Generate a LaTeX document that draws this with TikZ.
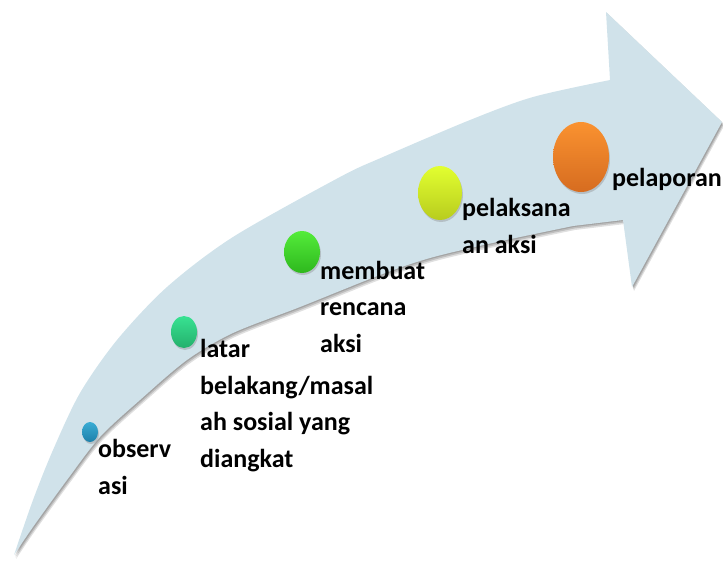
\documentclass[tikz,border=0pt]{standalone}
\usepackage{fontspec}
\setmainfont{Carlito}
\usetikzlibrary{shapes.geometric,shadows}

\definecolor{bandblue}{RGB}{208,226,234}
\definecolor{obsA}{RGB}{58,172,212}\definecolor{obsB}{RGB}{30,128,170}
\definecolor{latA}{RGB}{56,226,146}\definecolor{latB}{RGB}{36,176,108}
\definecolor{renA}{RGB}{84,236,58}\definecolor{renB}{RGB}{46,184,30}
\definecolor{pelA}{RGB}{226,255,48}\definecolor{pelB}{RGB}{184,204,30}
\definecolor{lapA}{RGB}{250,146,48}\definecolor{lapB}{RGB}{214,108,32}

% outline of the bent arrow
\newcommand{\bandpath}{
  plot[smooth, tension=0.5] coordinates {(14,555) (33,500) (53,450) (80,393)
    (117,340) (167,287) (233,237) (340,177) (383,157) (470,120) (533,97) (610,80)}
  -- (606,12) -- (722,122) -- (632,287) -- (623,220)
  -- plot[smooth, tension=0.5] coordinates {(573,226) (497,242) (430,258)
    (380,275) (300,307) (233,333) (187,360) (140,400) (100,437) (67,480)
    (33,527) (14,555)}
  -- cycle}

\begin{document}
\begin{tikzpicture}[x=1pt,y=-1pt]
    \tikzstyle{dot} = [ellipse, inner sep=0pt, draw=none,
        drop shadow={opacity=0.35, shadow xshift=1pt, shadow yshift=-2pt}]
    % labels sit on the baseline of their last line
    \tikzstyle{lbl} = [anchor=base west, inner sep=0pt, align=left,
        font=\fontsize{26}{36.5}\selectfont\bfseries, text=black]

    \useasboundingbox (0,0) rectangle (723,562);

    % soft shadow under the band
    \fill[black, opacity=0.15, xshift=1pt, yshift=-1pt] \bandpath;
    \fill[black, opacity=0.15, xshift=1.5pt, yshift=-2.5pt] \bandpath;
    \fill[black, opacity=0.12, xshift=2pt, yshift=-4pt] \bandpath;
    \fill[bandblue] \bandpath;

    % steps along the band
    \node[dot, minimum width=16, minimum height=20, top color=obsA, bottom color=obsB] (obs) at (90,432) {};
    \node[dot, minimum width=26, minimum height=32, top color=latA, bottom color=latB] (lat) at (184,332) {};
    \node[dot, minimum width=36, minimum height=42, top color=renA, bottom color=renB] (ren) at (302,252) {};
    \node[dot, minimum width=44, minimum height=54, top color=pelA, bottom color=pelB] (pel) at (440,193) {};
    \node[dot, minimum width=56, minimum height=70, top color=lapA, bottom color=lapB] (lap) at (581,157) {};

    \node[lbl] (obs-t) at (98,494) {observ\\asi};
    \node[lbl] (lat-t) at (200,467) {latar\\belakang/masal\\ah sosial yang\\diangkat};
    \node[lbl] (ren-t) at (320,352) {membuat\\rencana\\aksi};
    \node[lbl] (pel-t) at (462,253) {pelaksana\\an aksi};
    \node[lbl] (lap-t) at (612,186) {pelaporan};
\end{tikzpicture}
\end{document}
